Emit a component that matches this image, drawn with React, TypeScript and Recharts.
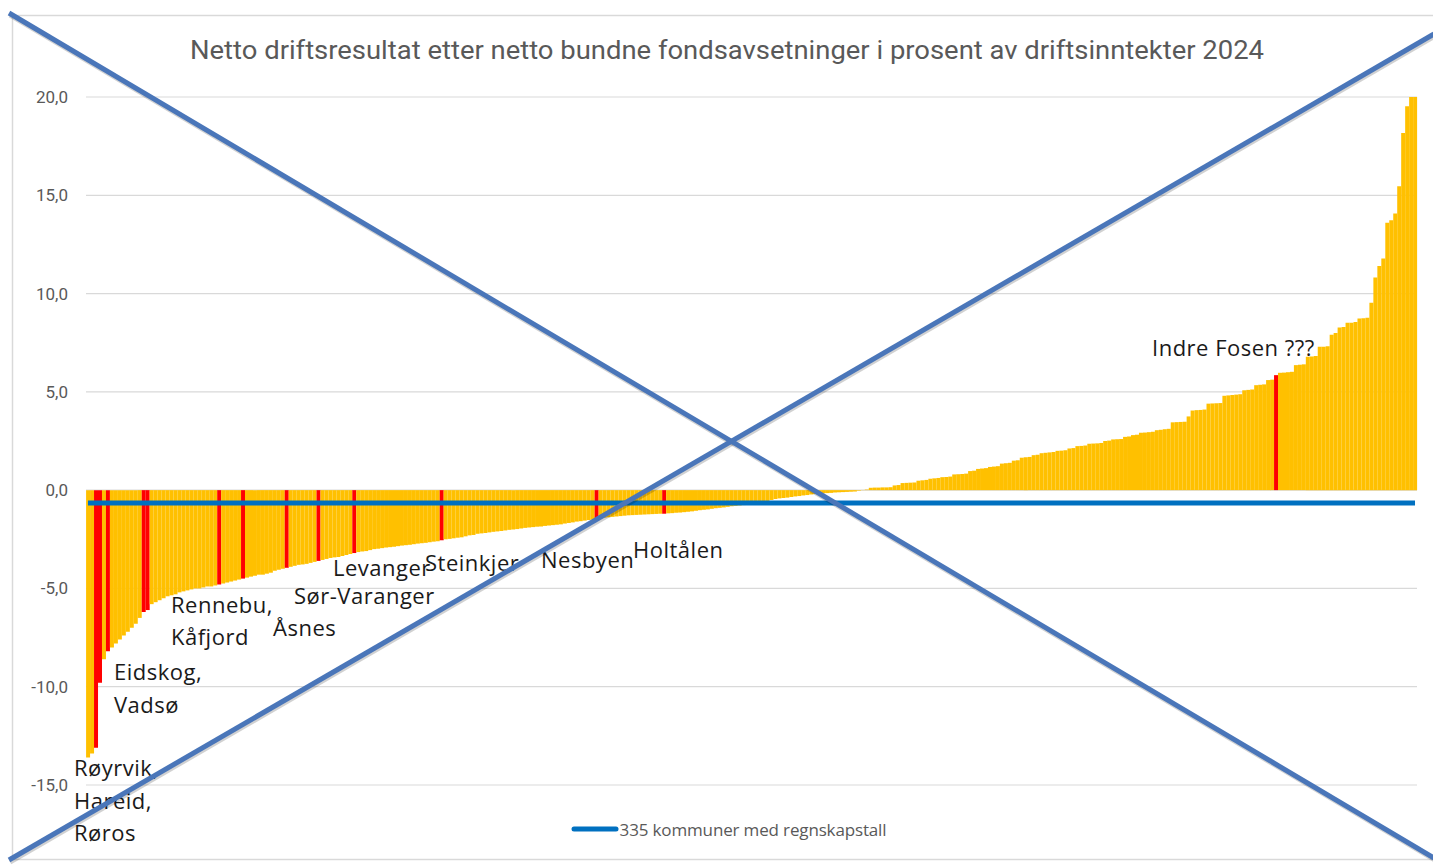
import { ComposedChart, Bar, Line, XAxis, YAxis, CartesianGrid, Cell, Legend } from "recharts";

// Netto driftsresultat (% av driftsinntekter) per kommune, sortert stigende
const VALUES = [
  -13.6, -13.4, -13.1, -9.8, -8.6, -8.2, -8.0, -7.8, -7.6, -7.4,
  -7.2, -7.0, -6.8, -6.5, -6.2, -6.1, -5.8, -5.7, -5.6, -5.5,
  -5.4, -5.35, -5.3, -5.2, -5.15, -5.1, -5.05, -5.0, -5.0, -4.95,
  -4.9, -4.9, -4.85, -4.8, -4.75, -4.7, -4.65, -4.6, -4.55, -4.5,
  -4.45, -4.4, -4.35, -4.3, -4.3, -4.25, -4.2, -4.1, -4.05, -4.0,
  -3.95, -3.9, -3.85, -3.8, -3.78, -3.75, -3.7, -3.65, -3.6, -3.55,
  -3.5, -3.45, -3.42, -3.4, -3.35, -3.3, -3.25, -3.2, -3.15, -3.12,
  -3.1, -3.05, -3.0, -2.98, -2.95, -2.92, -2.9, -2.88, -2.85, -2.82,
  -2.8, -2.78, -2.75, -2.72, -2.7, -2.68, -2.65, -2.62, -2.6, -2.55,
  -2.5, -2.48, -2.45, -2.42, -2.4, -2.35, -2.3, -2.28, -2.22, -2.2,
  -2.18, -2.15, -2.12, -2.1, -2.08, -2.05, -2.02, -2.0, -1.98, -1.95,
  -1.92, -1.9, -1.88, -1.86, -1.85, -1.82, -1.8, -1.78, -1.76, -1.74,
  -1.7, -1.67, -1.64, -1.6, -1.58, -1.55, -1.52, -1.5, -1.45, -1.42,
  -1.4, -1.38, -1.36, -1.34, -1.32, -1.3, -1.28, -1.27, -1.26, -1.25,
  -1.24, -1.23, -1.22, -1.21, -1.2, -1.2, -1.18, -1.17, -1.15, -1.14,
  -1.12, -1.1, -1.08, -1.05, -1.02, -1.0, -0.98, -0.95, -0.92, -0.9,
  -0.88, -0.85, -0.82, -0.8, -0.78, -0.76, -0.74, -0.72, -0.7, -0.65,
  -0.6, -0.55, -0.5, -0.45, -0.42, -0.4, -0.38, -0.35, -0.32, -0.3,
  -0.27, -0.25, -0.22, -0.2, -0.18, -0.16, -0.15, -0.14, -0.12, -0.11,
  -0.1, -0.09, -0.08, -0.07, -0.03, 0.01, 0.03, 0.12, 0.13, 0.13,
  0.14, 0.14, 0.15, 0.24, 0.26, 0.36, 0.37, 0.38, 0.39, 0.48,
  0.5, 0.52, 0.58, 0.6, 0.62, 0.66, 0.67, 0.69, 0.8, 0.81,
  0.82, 0.84, 0.97, 0.99, 1.08, 1.1, 1.12, 1.18, 1.2, 1.22,
  1.35, 1.37, 1.39, 1.5, 1.52, 1.65, 1.67, 1.69, 1.78, 1.8,
  1.88, 1.9, 1.92, 1.94, 2.0, 2.01, 2.03, 2.12, 2.14, 2.24,
  2.25, 2.27, 2.36, 2.37, 2.38, 2.4, 2.5, 2.52, 2.58, 2.59,
  2.6, 2.71, 2.73, 2.8, 2.82, 2.92, 2.93, 2.95, 2.97, 3.05,
  3.07, 3.1, 3.12, 3.45, 3.46, 3.47, 3.48, 3.75, 4.05, 4.07,
  4.08, 4.1, 4.4, 4.41, 4.42, 4.43, 4.8, 4.82, 4.84, 4.86,
  4.88, 5.08, 5.1, 5.12, 5.34, 5.36, 5.38, 5.6, 5.62, 5.85,
  5.97, 5.98, 6.0, 6.02, 6.36, 6.38, 6.4, 6.78, 6.8, 6.82,
  7.29, 7.3, 7.32, 7.9, 8.0, 8.28, 8.3, 8.51, 8.52, 8.55,
  8.73, 8.75, 8.77, 9.53, 10.82, 11.4, 11.79, 13.6, 13.73, 14.07,
  15.46, 18.17, 19.53, 20.0, 20.0,
];

// rank positions of the municipalities marked in red
const HIGHLIGHTED = [2, 3, 5, 14, 15, 33, 39, 50, 58, 67, 89, 128, 145, 299];

// level of the blue line (all 335 kommuner)
const AVERAGE = -0.65;

const Y_TICKS = [-15, -10, -5, 0, 5, 10, 15, 20];
const SERIES_NAME = "335 kommuner med regnskapstall";
const TITLE =
  "Netto driftsresultat etter netto bundne fondsavsetninger i prosent av driftsinntekter 2024";

const NOTES = [
  { text: "Indre Fosen ???", x: 1152, y: 347 },
  { text: "Levanger", x: 333, y: 567 },
  { text: "Steinkjer", x: 425, y: 562 },
  { text: "Nesbyen", x: 541, y: 559 },
  { text: "Holtålen", x: 633, y: 549 },
  { text: "Sør-Varanger", x: 294, y: 595 },
  { text: "Rennebu,", x: 171, y: 604 },
  { text: "Kåfjord", x: 171, y: 636 },
  { text: "Åsnes", x: 273, y: 627 },
  { text: "Eidskog,", x: 114, y: 671 },
  { text: "Vadsø", x: 114, y: 704 },
  { text: "Røyrvik,", x: 74, y: 767 },
  { text: "Hareid,", x: 74, y: 800 },
  { text: "Røros", x: 74, y: 832 },
];

const W = 1433;
const H = 865;
const ORANGE = "#FFC000";
const RED = "#FF0000";
const BLUE = "#0070C0";
const GREY_TEXT = "#595959";

const data = VALUES.map((v, i) => ({ rank: i + 1, value: v, snitt: AVERAGE }));

function LegendContent() {
  return (
    <div style={{ height: 24, display: "flex", justifyContent: "center", alignItems: "center", paddingLeft: 40 }}>
      <svg width={48} height={10} style={{ marginRight: 1 }}>
        <line x1={3} y1={5} x2={45} y2={5} stroke={BLUE} strokeWidth={5} strokeLinecap="round" />
      </svg>
      <span style={{ fontFamily: "Open Sans", fontSize: 17, color: GREY_TEXT, letterSpacing: -0.15 }}>
        {SERIES_NAME}
      </span>
    </div>
  );
}

export default function App() {
  return (
    <div style={{ position: "absolute", left: 0, top: 0, width: W, height: H, background: "#fff" }}>
      <svg width={W} height={H} style={{ position: "absolute", left: 0, top: 0 }}>
        <rect x={12.5} y={15.5} width={1440} height={844} fill="#fff" stroke="#D9D9D9" strokeWidth={1.5} />
      </svg>
      <div style={{ position: "absolute", left: 0, top: 0 }}>
        <ComposedChart
          width={W}
          height={H}
          data={data}
          margin={{ top: 97, right: 16, bottom: 56, left: 0 }}
          barCategoryGap="2%"
        >
          <CartesianGrid vertical={false} stroke="#D9D9D9" strokeWidth={1.2} />
          <XAxis dataKey="rank" hide />
          <YAxis
            width={86}
            domain={[-15, 20]}
            ticks={Y_TICKS}
            allowDataOverflow
            axisLine={false}
            tickLine={false}
            tickSize={0}
            tickMargin={18}
            tickFormatter={(v: number) => v.toFixed(1).replace(".", ",")}
            tick={{ fill: GREY_TEXT, fontSize: 17, fontFamily: "Roboto" }}
          />
          <Bar dataKey="value" isAnimationActive={false} legendType="none">
            {data.map((_, i) => (
              <Cell key={i} fill={HIGHLIGHTED.includes(i) ? RED : ORANGE} />
            ))}
          </Bar>
          <Line
            dataKey="snitt"
            name={SERIES_NAME}
            stroke={BLUE}
            strokeWidth={5}
            dot={false}
            activeDot={false}
            isAnimationActive={false}
          />
          <Legend verticalAlign="bottom" content={<LegendContent />} wrapperStyle={{ bottom: 24 }} />
        </ComposedChart>
      </div>
      <svg width={W} height={H} style={{ position: "absolute", left: 0, top: 0, pointerEvents: "none" }}>
        <text
          x={727}
          y={50}
          textAnchor="middle"
          dominantBaseline="central"
          fontFamily="Roboto"
          fontSize={26}
          fill={GREY_TEXT}
          textLength={1074}
          lengthAdjust="spacingAndGlyphs"
        >
          {TITLE}
        </text>
        {NOTES.map((n) => (
          <text
            key={n.text}
            x={n.x}
            y={n.y}
            dominantBaseline="central"
            fontFamily="Open Sans"
            fontSize={22}
            letterSpacing={0.5}
            fill="#1a1a1a"
          >
            {n.text}
          </text>
        ))}
        <g stroke="rgba(0,0,0,0.18)" strokeWidth={5}>
          <line x1={10} y1={15} x2={1435} y2={860} />
          <line x1={10} y1={862} x2={1435} y2={36} />
        </g>
        <g stroke="#4A76B9" strokeWidth={5}>
          <line x1={9} y1={13} x2={1434} y2={858} />
          <line x1={9} y1={860} x2={1434} y2={34} />
        </g>
      </svg>
    </div>
  );
}
